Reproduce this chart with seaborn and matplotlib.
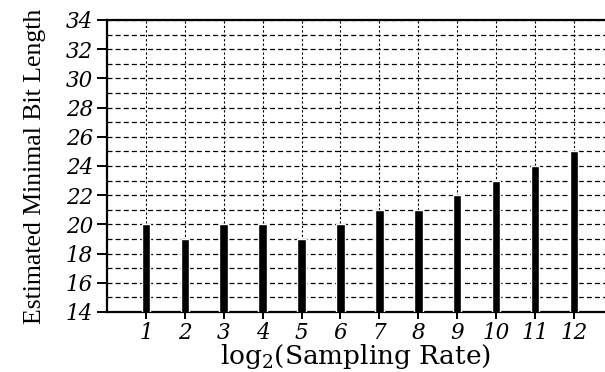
import matplotlib
matplotlib.use("Agg")
import matplotlib.pyplot as plt
import seaborn as sns
import pandas as pd
from matplotlib.ticker import MultipleLocator
from matplotlib.font_manager import FontProperties

log_rates = [1, 2, 3, 4, 5, 6, 7, 8, 9, 10, 11, 12]
bit_lengths = [20, 19, 20, 20, 19, 20, 21, 21, 22, 23, 24, 25]
y_ticks = [14, 16, 18, 20, 22, 24, 26, 28, 30, 32, 34]

sns.set_theme(style="white")
plt.rcParams['font.family'] = ['DejaVu Serif', 'Liberation Serif']
plt.rcParams['mathtext.fontset'] = 'custom'
plt.rcParams['mathtext.rm'] = 'DejaVu Serif'
plt.rcParams['mathtext.it'] = 'DejaVu Serif:italic'

df = pd.DataFrame({"rate": log_rates, "bits": bit_lengths})

fig = plt.figure(figsize=(6.05, 3.72), dpi=100)
ax = fig.add_axes([107/605, 1 - 312/372, 1 - 107/605, (312 - 20)/372])

sns.barplot(data=df, x="rate", y="bits", native_scale=True, color="black",
            width=0.22, saturation=1, ax=ax, zorder=3)

tick_fp = FontProperties(family="DejaVu Serif", style="italic", size=15.5)

ax.set_xlim(0, 12.8)
ax.set_ylim(14, 34)
ax.set_yticks(y_ticks, labels=[str(v) for v in y_ticks], fontproperties=tick_fp)
ax.yaxis.set_minor_locator(MultipleLocator(1))
ax.set_xticks(log_rates, labels=[str(v) for v in log_rates], fontproperties=tick_fp)

ax.grid(True, which="both", axis="y", color="black", linestyle=(0, (4, 2.5)), linewidth=0.9, zorder=0)
ax.grid(True, which="major", axis="x", color="black", linestyle=(0, (2, 2)), linewidth=0.8, zorder=0)
ax.set_axisbelow(True)

for s in ["left", "bottom", "top"]:
    ax.spines[s].set_visible(True)
    ax.spines[s].set_color("black")
    ax.spines[s].set_linewidth(1.6)
ax.spines["right"].set_visible(False)

ax.tick_params(axis="both", which="major", direction="out", width=1.4,
               color="black", labelcolor="black")
ax.tick_params(axis="y", which="major", length=7, pad=3, left=True)
ax.tick_params(axis="x", which="major", length=5, pad=2, bottom=True)
ax.tick_params(axis="y", which="minor", length=0)

ax.set_xlabel(r"log$_2$(Sampling Rate)", color="black", labelpad=-1,
              fontproperties=FontProperties(family="DejaVu Serif", size=19))
ax.set_ylabel("Estimated Minimal Bit Length", color="black", labelpad=14,
              fontproperties=FontProperties(family="Liberation Serif", size=18.5))

fig.savefig("out.png", dpi=100)
